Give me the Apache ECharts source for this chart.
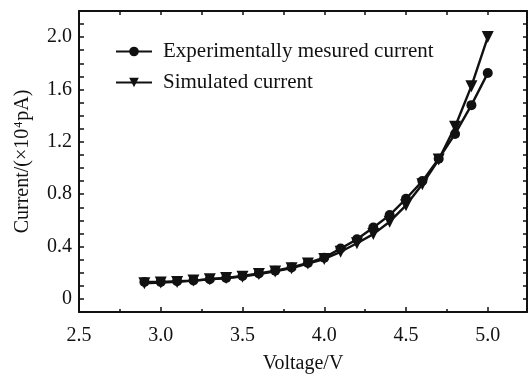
<!DOCTYPE html>
<html>
<head>
<meta charset="utf-8">
<script src="https://cdn.jsdelivr.net/npm/echarts@6/dist/echarts.min.js"></script>
<style>html,body{margin:0;padding:0;background:#fff;}#c{width:530px;height:379px;}</style>
</head>
<body>
<div id="c"></div>
<script>
var voltage = [2.9, 3.0, 3.1, 3.2, 3.3, 3.4, 3.5, 3.6, 3.7, 3.8, 3.9, 4.0, 4.1, 4.2, 4.3, 4.4, 4.5, 4.6, 4.7, 4.8, 4.9, 5.0];
var measured = [0.13, 0.13, 0.135, 0.14, 0.15, 0.16, 0.175, 0.195, 0.215, 0.24, 0.275, 0.315, 0.385, 0.455, 0.545, 0.64, 0.765, 0.9, 1.07, 1.26, 1.48, 1.725];
var simulated = [0.12, 0.125, 0.13, 0.14, 0.15, 0.16, 0.17, 0.19, 0.21, 0.235, 0.27, 0.305, 0.36, 0.425, 0.495, 0.59, 0.715, 0.875, 1.065, 1.315, 1.625, 2.0];
var seriesNames = ['Experimentally mesured current', 'Simulated current'];
var xTickLabels = ['2.5', '3.0', '3.5', '4.0', '4.5', '5.0'];
var yTickLabels = ['0', '0.4', '0.8', '1.2', '1.6', '2.0'];

var font = 'Liberation Serif';
var ink = '#111';
function pairs(xs, ys) { return xs.map(function (x, i) { return [x, ys[i]]; }); }

var chart = echarts.init(document.getElementById('c'), null, {renderer: 'canvas'});
chart.setOption({
  animation: false,
  backgroundColor: '#fff',
  grid: {left: 79, right: 0, top: 10.9, bottom: 62.4, containLabel: false},
  legend: {
    orient: 'vertical', left: 110, top: 36,
    itemWidth: 36, itemHeight: 12, itemGap: 10,
    textStyle: {fontFamily: font, fontSize: 21, color: ink, padding: [0, 0, 0, 6]},
    data: seriesNames
  },
  xAxis: [{
    type: 'value', position: 'bottom', min: 2.5, max: 5.24, interval: 0.5,
    name: 'Voltage/V', nameLocation: 'middle', nameGap: 42,
    nameTextStyle: {fontFamily: font, fontSize: 20, color: ink},
    axisLine: {onZero: false, lineStyle: {color: ink, width: 2}},
    axisTick: {inside: true, length: 5, lineStyle: {color: ink, width: 1.5}},
    minorTick: {show: true, splitNumber: 2, length: 3, lineStyle: {color: ink, width: 1.5}},
    splitLine: {show: false},
    axisLabel: {fontFamily: font, fontSize: 20, color: ink, margin: 14,
      formatter: function (v) { var s = v.toFixed(1); return xTickLabels.indexOf(s) >= 0 && Math.abs(v * 2 - Math.round(v * 2)) < 1e-6 ? s : ''; }}
  }, {
    type: 'value', position: 'top', min: 2.5, max: 5.24, interval: 0.25,
    axisLine: {onZero: false, lineStyle: {color: ink, width: 2}},
    axisTick: {inside: true, length: 4, lineStyle: {color: ink, width: 1.5}},
    splitLine: {show: false}, axisLabel: {show: false}
  }],
  yAxis: [{
    type: 'value', position: 'left', min: -0.1, max: 2.2, interval: 0.1,
    name: 'Current/(×10{sup|4}pA)', nameLocation: 'middle', nameGap: 46, nameRotate: 90,
    nameTextStyle: {fontFamily: font, fontSize: 20, color: ink,
      rich: {sup: {fontFamily: font, fontSize: 12, color: ink, verticalAlign: 'bottom', padding: [0, 1, 8, 1]}}},
    axisLine: {onZero: false, lineStyle: {color: ink, width: 2}},
    axisTick: {inside: true, length: 5, lineStyle: {color: ink, width: 1.5}},
    splitLine: {show: false},
    axisLabel: {fontFamily: font, fontSize: 20, color: ink, margin: 7,
      formatter: function (v) { var s = Math.abs(v) < 1e-9 ? '0' : v.toFixed(1); return yTickLabels.indexOf(s) >= 0 ? s : ''; }}
  }, {
    type: 'value', position: 'right', min: -0.1, max: 2.2, interval: 0.1,
    axisLine: {onZero: false, lineStyle: {color: ink, width: 2}},
    axisTick: {inside: true, length: 4, lineStyle: {color: ink, width: 1.5}},
    splitLine: {show: false}, axisLabel: {show: false}
  }],
  series: [{
    name: seriesNames[0], type: 'line', xAxisIndex: 0, yAxisIndex: 0,
    data: pairs(voltage, measured),
    symbol: 'circle', symbolSize: 10,
    lineStyle: {color: ink, width: 2.4}, itemStyle: {color: ink},
    z: 3
  }, {
    name: seriesNames[1], type: 'line', xAxisIndex: 0, yAxisIndex: 0,
    data: pairs(voltage, simulated),
    symbol: 'triangle', symbolSize: 12, symbolRotate: 180,
    lineStyle: {color: ink, width: 2.4}, itemStyle: {color: ink},
    z: 2
  }]
});
</script>
</body>
</html>
